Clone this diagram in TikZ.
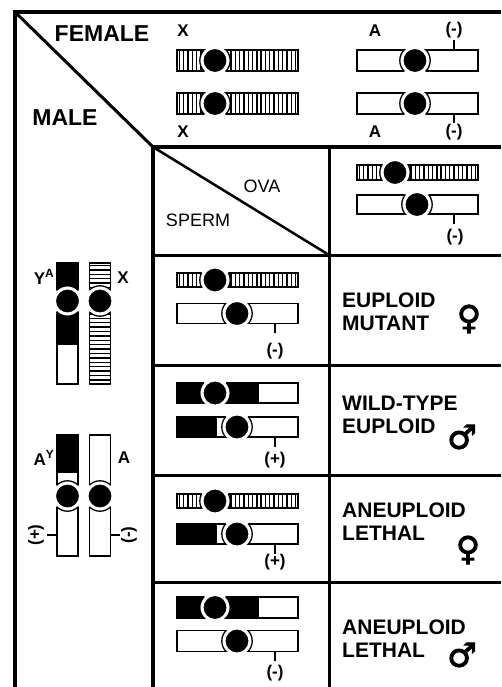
\documentclass[tikz,border=0pt]{standalone}
\usepackage{fontspec}
\setmainfont{Liberation Sans}
\newfontfamily\symfont[FakeBold=3]{DejaVu Sans}
\usetikzlibrary{positioning,calc}

\tikzset{
  outline/.style={line width=1.3pt},
  hatchline/.style={line width=1.4pt},
  centro/.style={fill=black, draw=white, line width=2pt},
  frame/.style={line width=4pt, line join=miter},
  rule/.style={line width=3pt},
  stub/.style={line width=2.5pt},
  biglab/.style={inner sep=0pt, font=\fontsize{23}{25}\selectfont\bfseries},
  thinlab/.style={inner sep=0pt, font=\fontsize{18}{20}\selectfont},
  chrlab/.style={inner sep=0pt, font=\fontsize{17}{19}\selectfont\bfseries},
  phenolab/.style={inner sep=0pt, anchor=west, align=left, font=\fontsize{21}{23}\selectfont\bfseries},
  sexlab/.style={inner sep=0pt, font=\fontsize{33}{35}\selectfont\symfont},
}

% horizontal chromosome: #1 left x, #2 centre y, #3 half height, #4 arm fill, #5 centromere offset
\newcommand{\chromH}[5]{%
  \begin{scope}
    \clip (#1,#2-#3) rectangle ++(121,2*#3);
    #4
  \end{scope}
  \draw[outline] (#1,#2-#3) rectangle ++(121,2*#3);
  \begin{scope}
    \clip (#1-1,#2-#3-1.5) rectangle ++(123,2*#3+3);
    \fill[white] (#1+#5,#2) circle (15.2);
  \end{scope}
  \begin{scope}
    \clip (#1,#2-#3) rectangle ++(121,2*#3);
    \draw[outline] (#1+#5,#2) circle (15.2);
  \end{scope}
  \draw[centro] (#1+#5,#2) circle (12.5);
}
% vertical chromosome: #1 centre x, #2 top y, #3 half width, #4 arm fill, #5 centromere offset
\newcommand{\chromV}[5]{%
  \begin{scope}
    \clip (#1-#3,#2) rectangle ++(2*#3,121);
    #4
  \end{scope}
  \draw[outline] (#1-#3,#2) rectangle ++(2*#3,121);
  \begin{scope}
    \clip (#1-#3-1.5,#2-1) rectangle ++(2*#3+3,123);
    \fill[white] (#1,#2+#5) circle (15.2);
  \end{scope}
  \begin{scope}
    \clip (#1-#3,#2) rectangle ++(2*#3,121);
    \draw[outline] (#1,#2+#5) circle (15.2);
  \end{scope}
  \draw[centro] (#1,#2+#5) circle (12.5);
}
% the kinds of chromosome
\newcommand{\xchromH}[3]{\chromH{#1}{#2}{#3}{\foreach \k in {0,...,27} \draw[hatchline] (#1+2.4+\k*4.3,#2-#3) -- ++(0,2*#3);}{38}}
\newcommand{\yachromH}[3]{\chromH{#1}{#2}{#3}{\fill (#1,#2-#3) rectangle ++(82,2*#3);}{38}}
\newcommand{\aychromH}[3]{\chromH{#1}{#2}{#3}{\fill (#1,#2-#3) rectangle ++(40,2*#3);}{60}}
\newcommand{\xchromV}[3]{\chromV{#1}{#2}{#3}{\foreach \k in {0,...,27} \draw[hatchline] (#1-#3,#2+2.4+\k*4.4) -- ++(2*#3,0);}{38}}
\newcommand{\yachromV}[3]{\chromV{#1}{#2}{#3}{\fill (#1-#3,#2) rectangle ++(2*#3,82);}{38}}
\newcommand{\aychromV}[3]{\chromV{#1}{#2}{#3}{\fill (#1-#3,#2) rectangle ++(2*#3,38);}{61}}

\begin{document}
\begin{tikzpicture}[x=1pt, y=-1pt]
\useasboundingbox (0,0) rectangle (501,687);

% frame and grid
\draw[frame] (15,687) -- (15,12) -- (501,12);
\draw[rule] (15,12) -- (153,147);
\draw[frame] (153,687) -- (153,147) -- (501,147);
\draw[rule] (329,147) -- (329,687);
\foreach \y in {255,365,475,582} {
    \draw[rule] (153,\y) -- (501,\y);
}
\draw[line width=2.5pt] (153,147) -- (329,255);

% corner labels
\node[biglab] (female) at (102,34) {FEMALE};
\node[biglab] (male) at (65,118) {MALE};
\node[thinlab] (ova) at (262,186) {OVA};
\node[thinlab] (sperm) at (198,220) {SPERM};

% female chromosomes
\xchromH{177}{60.5}{10.5}
\xchromH{177}{103.5}{10.5}
\chromH{357}{60.5}{10.5}{}{58}
\chromH{357}{103.5}{10.5}{}{58}
\node[chrlab] (fx1) at (183,31) {X};
\node[chrlab] (fx2) at (183,132) {X};
\node[chrlab] (fa1) at (375,31) {A};
\node[chrlab] (fa2) at (375,132) {A};
\node[chrlab] (fm1) at (454,30) {(-)};
\node[chrlab] (fm2) at (454,132) {(-)};
\coordinate (tf1) at (454,50);
\coordinate (tf2) at (454,114);
\draw[stub] (tf1) -- (tf1 |- 0,40);
\draw[stub] (tf2) -- (tf2 |- 0,123);

% male chromosomes
\yachromV{67.5}{263}{10.5}
\xchromV{100}{263}{10.5}
\aychromV{67.5}{435}{10.5}
\chromV{100}{435}{10.5}{}{61}
\node[chrlab] (mya) at (44,277) {Y\textsuperscript{A}};
\node[chrlab] (mx) at (123,278) {X};
\node[chrlab] (may) at (44,458) {A\textsuperscript{Y}};
\node[chrlab] (ma) at (124,458) {A};
\node[chrlab, rotate=90] (mp) at (36,535) {(+)};
\node[chrlab, rotate=90] (mm) at (129,535) {(-)};
\coordinate (tm1) at (57,535);
\coordinate (tm2) at (110.5,535);
\draw[stub] (tm1) -- (47,535);
\draw[stub] (tm2) -- (120,535);

% ova
\xchromH{357}{172.5}{7.5}
\chromH{357}{204.5}{9.5}{}{60}
\node[chrlab] (om) at (455,237) {(-)};
\coordinate (to) at (454,214);
\draw[stub] (to) -- (454,224);

% sperm column and offspring
\xchromH{177}{280}{7}
\chromH{177}{313.5}{10}{}{60}
\node[chrlab] (s1) at (275,351) {(-)};
\coordinate (ts1) at (275,323.5);
\draw[stub] (ts1) -- (275,333);

\yachromH{177}{393}{10}
\aychromH{177}{427}{10}
\node[chrlab] (s2) at (275,460) {(+)};
\coordinate (ts2) at (275,437);
\draw[stub] (ts2) -- (275,447);

\xchromH{177}{501}{7}
\aychromH{177}{534}{10}
\node[chrlab] (s3) at (275,562) {(+)};
\coordinate (ts3) at (275,544);
\draw[stub] (ts3) -- (275,554);

\yachromH{177}{607.5}{10.5}
\chromH{177}{641}{10.5}{}{60}
\node[chrlab] (s4) at (275,673) {(-)};
\coordinate (ts4) at (275,651.5);
\draw[stub] (ts4) -- (275,661);

% results
\node[phenolab] (r1) at (342,311.5) {EUPLOID\\MUTANT};
\node[phenolab] (r2) at (342,415) {WILD-TYPE\\EUPLOID};
\node[phenolab] (r3) at (342,521.5) {ANEUPLOID\\LETHAL};
\node[phenolab] (r4) at (342,638.5) {ANEUPLOID\\LETHAL};
\node[sexlab] (g1) at (469,319) {♀};
\node[sexlab] (g2) at (462,437) {♂};
\node[sexlab] (g3) at (468,550) {♀};
\node[sexlab] (g4) at (462,655) {♂};
\end{tikzpicture}
\end{document}
